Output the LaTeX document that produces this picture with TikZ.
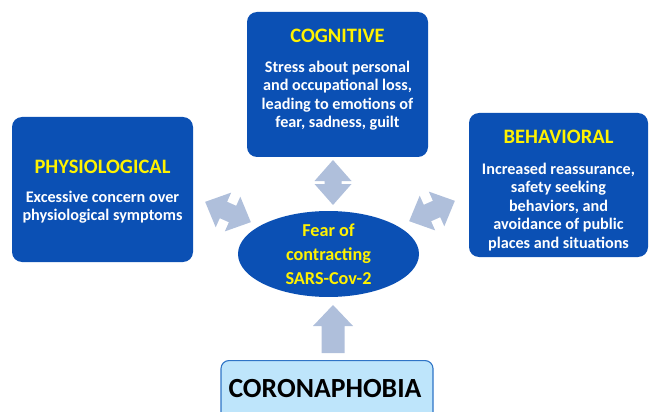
\documentclass[tikz,border=0pt]{standalone}
\usepackage{fontspec}
\setmainfont{Carlito}
\usetikzlibrary{shapes.geometric}
\definecolor{boxblue}{HTML}{0B50B4}
\definecolor{arrowgrey}{HTML}{AFBFDB}
\definecolor{titleyellow}{HTML}{FFF200}
\definecolor{corofill}{HTML}{BEE5FB}
\definecolor{coroline}{HTML}{2F74C6}
\tikzset{
  catbox/.style={draw=none, fill=boxblue, rounded corners=10pt, minimum width=181pt, minimum height=145pt, inner sep=0pt},
  cattitle/.style={text=titleyellow, font=\fontsize{20.5}{22}\selectfont\bfseries, anchor=base, inner sep=0pt},
  catbody/.style={text=white, font=\fontsize{16.2}{18.5}\selectfont\bfseries, align=center, anchor=north, inner sep=0pt},
  pics/dblarrow/.style={code={
    \fill[arrowgrey] (-22.5,0) -- (-1.5,18.5) -- (-1.5,8.5) -- (1.5,8.5) -- (1.5,18.5) -- (22.5,0)
      -- (1.5,-18.5) -- (1.5,-8.5) -- (-1.5,-8.5) -- (-1.5,-18.5) -- cycle;}},
  pics/diagarrow/.style={code={
    \fill[arrowgrey] (-25,0) -- (-5,19) -- (-5,9) -- (5,9) -- (5,19) -- (25,0)
      -- (5,-19) -- (5,-9) -- (-5,-9) -- (-5,-19) -- cycle;}},
  pics/uparrow/.style={code={
    \fill[arrowgrey] (0,0) -- (20,-21) -- (11.5,-21) -- (11.5,-48) -- (-11.5,-48) -- (-11.5,-21) -- (-20,-21) -- cycle;}}
}
\begin{document}
\begin{tikzpicture}[x=1pt,y=1pt]
\useasboundingbox (0,0) rectangle (649,-412);
\clip (0,0) rectangle (649,-412);
% category boxes
\node[catbox] (phys) at (102.5,-189.5) {};
\node[catbox] (cog) at (337.5,-84.5) {};
\node[catbox, minimum width=179pt, minimum height=144pt] (beh) at (558.5,-185) {};
% titles
\node[cattitle] (physT) at (102.5,-173) {PHYSIOLOGICAL};
\node[cattitle] (cogT) at (337.5,-43) {COGNITIVE};
\node[cattitle] (behT) at (558.5,-144) {BEHAVIORAL};
% bodies
\node[catbody] (physB) at (102.5,-190.5) {Excessive concern over\\physiological symptoms};
\node[catbody] (cogB) at (337.5,-60.5) {Stress about personal\\and occupational loss,\\leading to emotions of\\fear, sadness, guilt};
\node[catbody] (behB) at (558.5,-162.5) {Increased reassurance,\\safety seeking\\behaviors, and\\avoidance of public\\places and situations};
% centre ellipse
\node[ellipse, fill=boxblue, minimum width=181pt, minimum height=82pt, inner sep=0pt,
      text=titleyellow, font=\fontsize{18.2}{24}\selectfont\bfseries, align=center] (fear) at (328.5,-254)
      {Fear of\\contracting\\SARS-Cov-2};
% coronaphobia box
\node[draw=coroline, line width=1.1pt, fill=corofill, rounded corners=8pt, minimum width=212pt,
      minimum height=70pt, anchor=north, inner sep=0pt] (coro) at (327,-360) {};
\node[anchor=base, inner sep=0pt, font=\fontsize{27.7}{30}\selectfont\bfseries] (coroT) at (325,-397) {CORONAPHOBIA};
% block arrows
\coordinate (arrCog) at (333,-182.5);
\coordinate (arrPhys) at (228,-212);
\coordinate (arrBeh) at (432,-211);
\coordinate (arrUp) at (333,-305);
\pic[rotate=90] at (arrCog) {dblarrow};
\pic[rotate=-24] at (arrPhys) {diagarrow};
\pic[rotate=24] at (arrBeh) {diagarrow};
\pic at (arrUp) {uparrow};
\end{tikzpicture}
\end{document}
